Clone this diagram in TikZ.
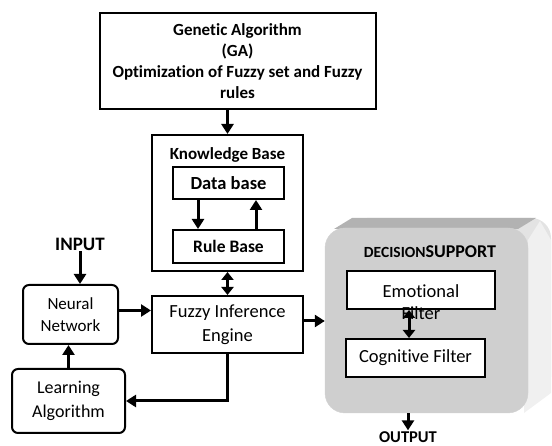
\documentclass[tikz,border=0pt]{standalone}
\usepackage{fontspec}
\setmainfont{Carlito}[RawFeature=-liga]
\setsansfont{Carlito}[RawFeature=-liga]
\usepackage{tikz}
\usetikzlibrary{arrows.meta,positioning,calc}
\newcommand{\fsz}[1]{\fontsize{#1}{1.22\dimexpr#1pt\relax}\selectfont}

\begin{document}
\begin{tikzpicture}[
  x=1pt,y=-1pt,
  font=\sffamily,
  box/.style={draw,line width=2pt,fill=white,align=center,inner sep=2pt},
  rbox/.style={box,rounded corners=6pt},
  ar/.style={line width=3pt,-{Triangle[length=10pt,width=12pt]}},
  dar/.style={line width=3pt,{Triangle[length=8pt,width=12pt]}-{Triangle[length=8pt,width=12pt]}},
  lab/.style={inner sep=1pt,font=\sffamily\bfseries}
]
\useasboundingbox (0,0) rectangle (552,446);

\node[box,minimum width=276pt,minimum height=96pt,font=\sffamily\bfseries\fontsize{17}{21}\selectfont] (ga) at (237.5,61)
  {Genetic Algorithm\\(GA)\\Optimization of Fuzzy set and Fuzzy\\rules};

\node[box,minimum width=151pt,minimum height=136pt] (kb) at (227.5,203) {};
\node[lab,font=\sffamily\bfseries\fsz{17}] (kbt) at (227.5,155) {Knowledge Base};
\node[box,minimum width=111pt,minimum height=32pt,font=\sffamily\bfseries\fsz{18.5}] (db) at (228.5,183) {Data base};
\node[box,minimum width=111pt,minimum height=33pt,font=\sffamily\bfseries\fsz{17.5}] (rb) at (228.5,246.5) {Rule Base};

\node[box,minimum width=151pt,minimum height=57pt,font=\sffamily\fontsize{18.5}{24}\selectfont] (fie) at (227.5,324.5) {Fuzzy Inference\\Engine};

\node[lab,font=\sffamily\bfseries\fsz{19}] (in) at (80,244) {INPUT};
\node[rbox,minimum width=95pt,minimum height=59pt,font=\sffamily\fontsize{17}{22}\selectfont] (nn) at (70.5,314.5) {Neural\\Network};
\node[rbox,minimum width=113pt,minimum height=64pt,font=\sffamily\fontsize{18}{24}\selectfont] (la) at (68.5,401) {Learning\\Algorithm};

\fill[gray!22,rounded corners=20pt] (347,218) rectangle (551,397);
\fill[gray!60] (334,229) -- (352,218) -- (536,218) -- (518,229) -- cycle;
\fill[gray!12] (528,240) -- (540,221) -- (551,240) -- (551,393) -- (524,413) -- cycle;
\node[draw=gray!35,fill=gray!38,rounded corners=20pt,minimum width=203pt,minimum height=185pt] (ds) at (426.5,320.5) {};
\node[lab] (dst) at (430,252) {\fsz{15.5}DECISION\fsz{18}SUPPORT};
\node[box,minimum width=148pt,minimum height=38pt] (ef) at (421,290) {};
\node[font=\sffamily\fsz{18.5},inner sep=0pt] (eft) at (421,291) {Emotional};
\node[font=\sffamily\fsz{18.5},inner sep=0pt,anchor=base] (efl) at (421,320) {Filter};
\node[box,minimum width=139pt,minimum height=38pt,font=\sffamily\fsz{18.5}] (cf) at (415.5,358) {Cognitive Filter};
\node[lab,font=\sffamily\bfseries\fsz{16.5}] (out) at (408,437) {OUTPUT};

\draw[ar] (kb.north |- ga.south) -- (kb.north);
\draw[ar] ([xshift=-30.5pt]db.south) -- ([xshift=-30.5pt]rb.north);
\draw[ar] ([xshift=27.5pt]rb.north) -- ([xshift=27.5pt]db.south);
\draw[dar] (kb.south) -- (fie.north);
\draw[ar] (in.south) -- (in.south |- nn.north);
\draw[ar] ([yshift=4pt]nn.east) -- ([yshift=4pt]fie.west |- nn.east);
\draw[ar] (la.north) -- (la.north |- nn.south);
\draw[ar] (fie.south) |- (la.east);
\draw[ar] ([yshift=3.5pt]fie.east) -- ([yshift=3.5pt]ds.west |- fie.east);
\draw[dar] ([xshift=-12pt]ef.south) -- ([xshift=-12pt]ef.south |- cf.north);
\draw[ar] (ds.south -| out) -- (out.north);
\end{tikzpicture}
\end{document}
